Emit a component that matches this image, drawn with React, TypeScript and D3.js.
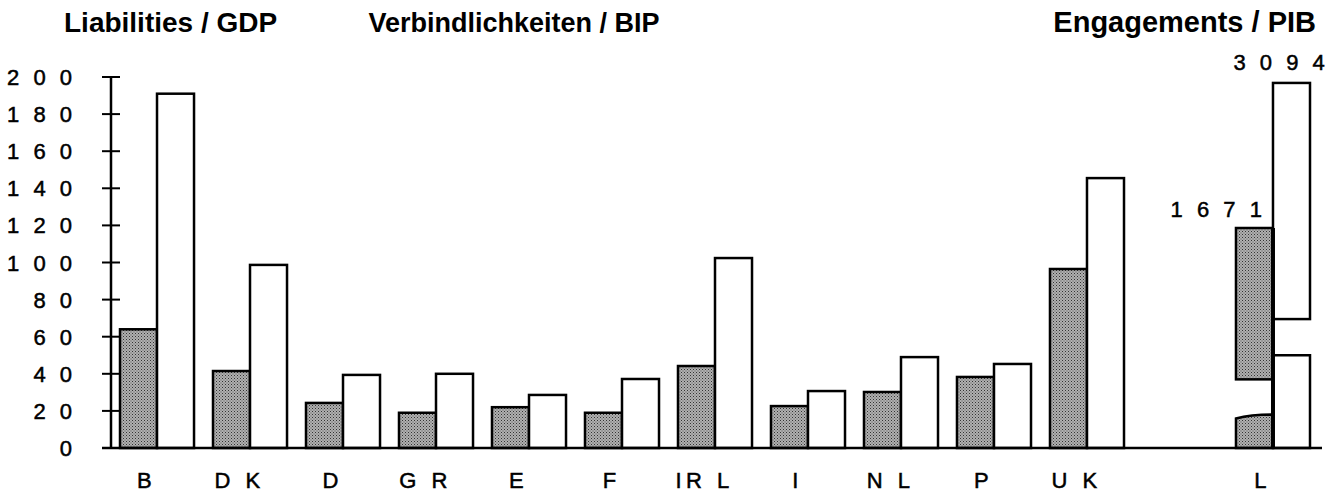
import * as d3 from "d3";

// shaded = first series, white = second series (per cent of GDP)
const categories = ["B", "D K", "D", "G R", "E", "F", "IR L", "I", "N L", "P", "U K", "L"];
const shaded = [64, 41.5, 24.3, 19, 22, 19, 44.2, 22.6, 30.2, 38.3, 96.5, 1671];
const white = [191, 98.7, 39.4, 40, 28.6, 37.2, 102.4, 30.7, 49, 45.3, 145.5, 3094];
// empty slot between UK and L
const slots = ["B", "D K", "D", "G R", "E", "F", "IR L", "I", "N L", "P", "U K", "", "L"];
const yTicks = [0, 20, 40, 60, 80, 100, 120, 140, 160, 180, 200];
const titles = ["Liabilities / GDP", "Verbindlichkeiten / BIP", "Engagements / PIB"];

// L is off the scale: drawn broken [0, low] + [high, top] (axis units)
const brokenCat = "L";
const brokenLow = [17, 50];
const brokenHigh = [37, 69.5];
const brokenTop = [118.6, 196.8];

const W = 1338;
const H = 495;
const FONT = "'Liberation Sans', Arial, Helvetica, sans-serif";

const spaced = (s: string) => s.split("").join(" ");

export default function App() {
  const x = d3.scaleBand<string>().domain(slots).range([120, 1310]).paddingInner(0.204).paddingOuter(0);
  const y = d3.scaleLinear().domain([0, 200]).range([448, 77]);
  const bw = x.bandwidth() / 2;
  const base = y(0);

  const txt = { fontFamily: FONT, stroke: "#000", strokeWidth: 0.5 };

  const bars: JSX.Element[] = [];
  categories.forEach((c, i) => {
    const x0 = x(c)!;
    if (c === brokenCat) {
      // shaded broken bar
      const lo0 = y(brokenLow[0]);
      bars.push(
        <path
          key="lsh1"
          d={`M${x0},${base}V${lo0 + 2}Q${x0 + bw * 0.4},${lo0 - 2} ${x0 + bw},${lo0 - 2}V${base}Z`}
          fill="url(#dots)"
          stroke="#000"
          strokeWidth={2.5}
        />
      );
      bars.push(
        <rect key="lsh2" x={x0} y={y(brokenTop[0])} width={bw} height={y(brokenHigh[0]) - y(brokenTop[0])}
          fill="url(#dots)" stroke="#000" strokeWidth={2.5} />
      );
      bars.push(
        <rect key="lw1" x={x0 + bw} y={y(brokenLow[1])} width={bw} height={base - y(brokenLow[1])}
          fill="#fff" stroke="#000" strokeWidth={2.5} />
      );
      bars.push(
        <rect key="lw2" x={x0 + bw} y={y(brokenTop[1])} width={bw} height={y(brokenHigh[1]) - y(brokenTop[1])}
          fill="#fff" stroke="#000" strokeWidth={2.5} />
      );
      bars.push(
        <line key="lmid" x1={x0 + bw} x2={x0 + bw} y1={y(brokenTop[0])} y2={base} stroke="#000" strokeWidth={4} />
      );
      bars.push(
        <text key="lv1" x={x0 + bw * 0.7 + 4} y={y(brokenTop[0]) - 11} textAnchor="end" fontSize={22}
          letterSpacing={4} {...txt}>{spaced(String(shaded[i]))}</text>
      );
      bars.push(
        <text key="lv2" x={x0 + bw * 2.4 + 4} y={y(brokenTop[1]) - 13} textAnchor="end" fontSize={22}
          letterSpacing={4} {...txt}>{spaced(String(white[i]))}</text>
      );
      return;
    }
    bars.push(
      <rect key={c + "s"} x={x0} y={y(shaded[i])} width={bw} height={base - y(shaded[i])}
        fill="url(#dots)" stroke="#000" strokeWidth={2.5} />
    );
    bars.push(
      <rect key={c + "w"} x={x0 + bw} y={y(white[i])} width={bw} height={base - y(white[i])}
        fill="#fff" stroke="#000" strokeWidth={2.5} />
    );
  });

  return (
    <svg width={W} height={H} style={{ position: "absolute", left: 0, top: 0, background: "#fff" }}>
      <defs>
        <pattern id="dots" width={3} height={3} patternUnits="userSpaceOnUse">
          <rect width={3} height={3} fill="#b0b0b0" />
          <rect x={0} y={0} width={1} height={1} fill="#333" />
          <rect x={1.5} y={1.5} width={1} height={1} fill="#555" />
        </pattern>
      </defs>

      <text x={64} y={32} fontSize={28} fontWeight="bold" fontFamily={FONT}>{titles[0]}</text>
      <text x={514} y={32} fontSize={27} fontWeight="bold" fontFamily={FONT} textAnchor="middle">{titles[1]}</text>
      <text x={1316} y={32} fontSize={29} fontWeight="bold" fontFamily={FONT} textAnchor="end">{titles[2]}</text>

      {/* y axis */}
      <line x1={111} x2={111} y1={y(200)} y2={base} stroke="#000" strokeWidth={2.5} />
      {yTicks.map((t) => (
        <g key={t}>
          <line x1={102} x2={120} y1={y(t)} y2={y(t)} stroke="#000" strokeWidth={2} />
          <text x={72 + 4} y={y(t) + 8} textAnchor="end" fontSize={22} letterSpacing={4} {...txt}>
            {spaced(String(t))}
          </text>
        </g>
      ))}

      {bars}

      {/* baseline */}
      <line x1={102} x2={1322} y1={base} y2={base} stroke="#000" strokeWidth={2.5} />

      {categories.map((c) => (
        <text key={c} x={x(c)! + x.bandwidth() * 0.32 + 3} y={488} textAnchor="middle" fontSize={22}
          letterSpacing={4.5} {...txt}>{c}</text>
      ))}
    </svg>
  );
}
